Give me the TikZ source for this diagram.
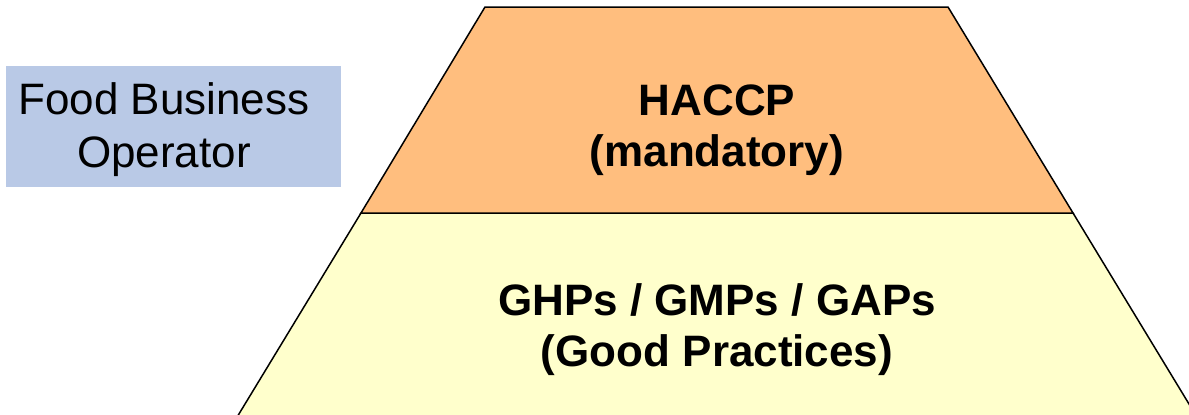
\documentclass[tikz,border=0pt]{standalone}
\usepackage{fontspec}
\setmainfont{Liberation Sans}
\usepackage{tikz}
\usepackage{xcolor}
\definecolor{opblue}{RGB}{185,201,230}
\definecolor{haccporange}{RGB}{255,190,126}
\definecolor{gpyellow}{RGB}{255,255,204}
\tikzstyle{layer}=[draw=black, line width=1.5pt, line join=miter]
\tikzstyle{opbox}=[fill=opblue, inner sep=0pt, minimum width=335pt, minimum height=121pt]
\tikzstyle{optext}=[align=center, inner sep=0pt, font=\fontsize{44}{53}\selectfont]
\tikzstyle{laytext}=[align=center, inner sep=0pt, font=\fontsize{44}{51}\selectfont\bfseries]

\begin{document}
\begin{tikzpicture}[x=1pt,y=-1pt]%

	\useasboundingbox (0,0) rectangle (1189,415);
	\clip (0,0) rectangle (1189,415);

	\begin{scope}
		\draw  (173.5,126.5) node (Operator_Box) [opbox] {};
		\draw  (164,130)     node (Operator_Text) [optext] {Food Business\\Operator};
	\end{scope}

	\begin{scope}
		\coordinate (Top_L) at (485,7);
		\coordinate (Top_R) at (948,7);
		\coordinate (Mid_L) at (361,213);
		\coordinate (Mid_R) at (1073,213);
		\coordinate (Bot_L) at (228,432);
		\coordinate (Bot_R) at (1206,432);

		\draw [layer, fill=gpyellow]    (Mid_L) -- (Mid_R) -- (Bot_R) -- (Bot_L) -- cycle;
		\draw [layer, fill=haccporange] (Top_L) -- (Top_R) -- (Mid_R) -- (Mid_L) -- cycle;

		\draw  (717,130.5) node (Layer_HACCP) [laytext] {HACCP\\(mandatory)};
		\draw  (717,330)   node (Layer_GP)    [laytext] {GHPs / GMPs / GAPs\\(Good Practices)};
	\end{scope}

\end{tikzpicture}
\end{document}
